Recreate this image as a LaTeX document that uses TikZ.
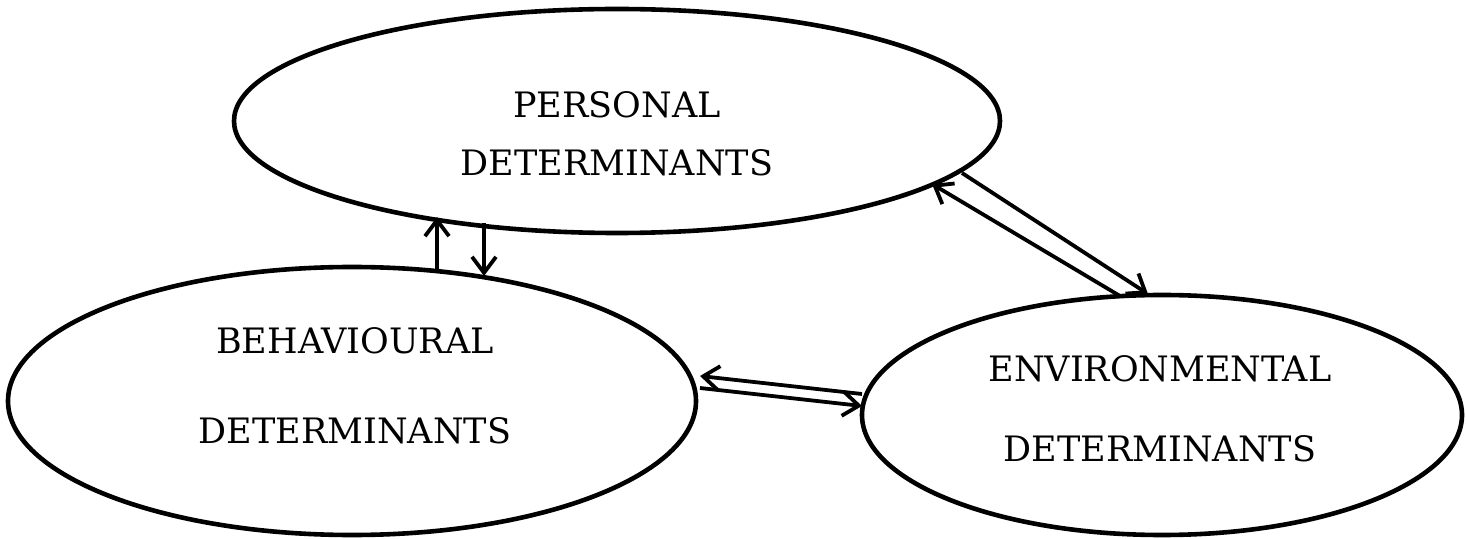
\documentclass[tikz,border=0pt]{standalone}
\usepackage{fontspec}
\setmainfont{DejaVu Serif}
\usetikzlibrary{shapes.geometric,arrows.meta}
\begin{document}
\begin{tikzpicture}[x=0.5pt,y=-0.5pt,
  oval/.style={draw,ellipse,line width=2.3pt,inner sep=0pt},
  lbl/.style={font=\fontsize{17.5pt}{20pt}\selectfont,inner sep=0pt,anchor=base},
  conn/.style={line width=1.9pt,-{Straight Barb[length=8pt,width=12pt,line width=1.9pt]}}]
\useasboundingbox (0,0) rectangle (1467,539);
\node[oval,minimum width=766pt*0.5,minimum height=224pt*0.5] (P) at (617,121) {};
\node[oval,minimum width=688pt*0.5,minimum height=268pt*0.5] (B) at (352,401) {};
\node[oval,minimum width=600pt*0.5,minimum height=240pt*0.5] (E) at (1162,415) {};
\node[lbl] (p1) at (617,118) {PERSONAL};
\node[lbl] (p2) at (617,176) {DETERMINANTS};
\node[lbl] (b1) at (355,354) {BEHAVIOURAL};
\node[lbl] (b2) at (355,444) {DETERMINANTS};
\node[lbl] (e1) at (1160,382) {ENVIRONMENTAL};
\node[lbl] (e2) at (1160,462) {DETERMINANTS};
\coordinate (bu) at (437,269);
\coordinate (pu) at (437,217);
\coordinate (pd) at (484,223);
\coordinate (bd) at (484,276);
\coordinate (eu) at (1120,296);
\coordinate (pe) at (932,184);
\coordinate (pf) at (962,173);
\coordinate (ef) at (1148,294);
\coordinate (el) at (862,394);
\coordinate (bl) at (700,376);
\coordinate (br) at (700,388);
\coordinate (er) at (862,406);
\draw[conn] (bu) -- (pu);
\draw[conn] (pd) -- (bd);
\draw[conn] (eu) -- (pe);
\draw[conn] (pf) -- (ef);
\draw[conn] (el) -- (bl);
\draw[conn] (br) -- (er);
\end{tikzpicture}
\end{document}
